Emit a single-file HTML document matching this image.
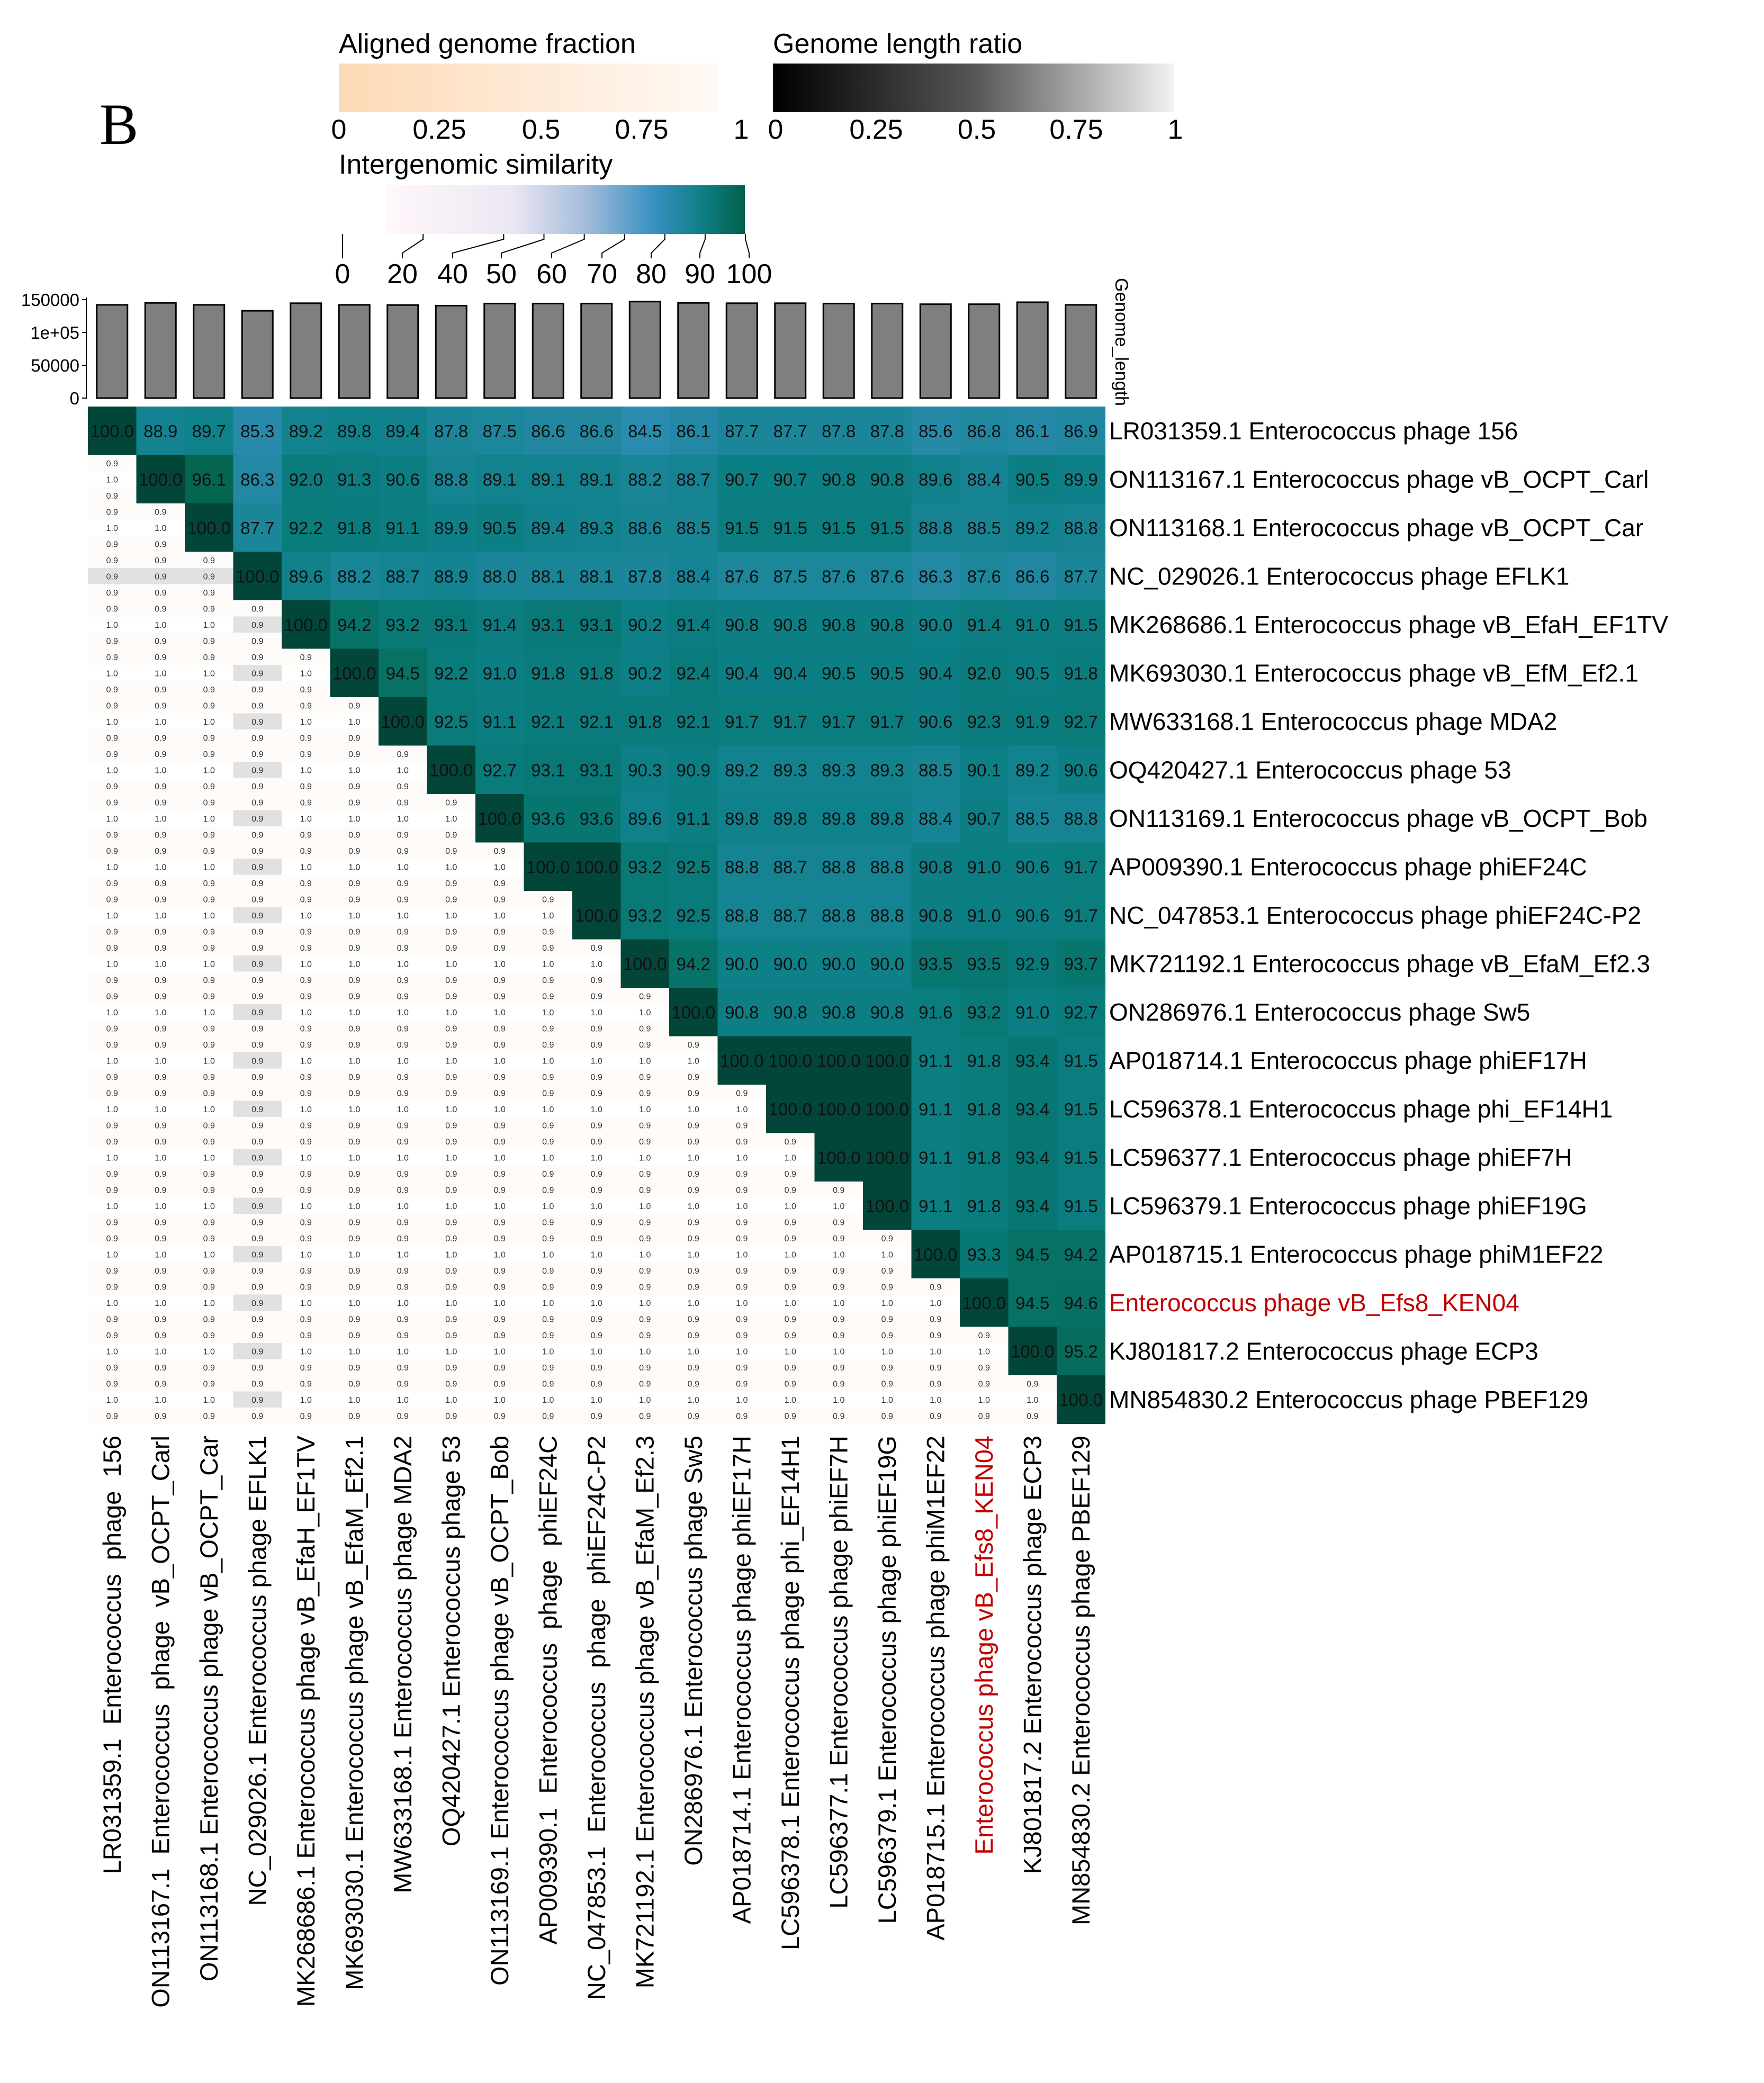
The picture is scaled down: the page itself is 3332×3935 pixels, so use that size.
<!DOCTYPE html>
<html><head><meta charset="utf-8"><style>
html,body{margin:0;padding:0;background:#fff}
svg{display:block;font-family:"Liberation Sans",sans-serif}
</style></head><body>
<svg id="chart" width="3332" height="3935" viewBox="0 0 3332 3935" xmlns="http://www.w3.org/2000/svg">
<defs>
<linearGradient id="gAF" x1="0" x2="1"><stop offset="0" stop-color="#fdd9b5"/><stop offset="1" stop-color="#fffaf6"/></linearGradient>
<linearGradient id="gGL" x1="0" x2="1"><stop offset="0" stop-color="#000"/><stop offset="0.5" stop-color="#555"/><stop offset="1" stop-color="#f2f2f2"/></linearGradient>
<linearGradient id="gIS" x1="0" x2="1"><stop offset="0" stop-color="#fff7fb"/><stop offset="0.35" stop-color="#ece7f2"/><stop offset="0.55" stop-color="#a6bddb"/><stop offset="0.75" stop-color="#3690c0"/><stop offset="0.88" stop-color="#0f7f86"/><stop offset="1" stop-color="#02604a"/></linearGradient>
</defs>
<text x="188" y="272" font-family="Liberation Serif,serif" font-size="110">B</text>
<g>
<text x="640" y="100" font-size="52">Aligned genome fraction</text>
<rect x="640" y="120" width="717" height="92" fill="url(#gAF)"/>
<text x="640" y="262" font-size="52" text-anchor="middle">0</text>
<text x="830" y="262" font-size="52" text-anchor="middle">0.25</text>
<text x="1022" y="262" font-size="52" text-anchor="middle">0.5</text>
<text x="1212" y="262" font-size="52" text-anchor="middle">0.75</text>
<text x="1400" y="262" font-size="52" text-anchor="middle">1</text>
</g>
<g>
<text x="1460" y="100" font-size="52">Genome length ratio</text>
<rect x="1460" y="120" width="757" height="92" fill="url(#gGL)"/>
<text x="1465" y="262" font-size="52" text-anchor="middle">0</text>
<text x="1655" y="262" font-size="52" text-anchor="middle">0.25</text>
<text x="1845" y="262" font-size="52" text-anchor="middle">0.5</text>
<text x="2033" y="262" font-size="52" text-anchor="middle">0.75</text>
<text x="2220" y="262" font-size="52" text-anchor="middle">1</text>
</g>
<g>
<text x="640" y="328" font-size="52">Intergenomic similarity</text>
<rect x="730" y="350" width="677" height="92" fill="url(#gIS)"/>
<g id="isTicks" fill="none" stroke="#000" stroke-width="2"></g>
</g>
<g id="bars"></g>
<g id="heat"></g>
<g id="labels"></g>
</svg>
<script>
const names = ["LR031359.1 Enterococcus phage 156","ON113167.1 Enterococcus phage vB_OCPT_Carl","ON113168.1 Enterococcus phage vB_OCPT_Car","NC_029026.1 Enterococcus phage EFLK1","MK268686.1 Enterococcus phage vB_EfaH_EF1TV","MK693030.1 Enterococcus phage vB_EfM_Ef2.1","MW633168.1 Enterococcus phage MDA2","OQ420427.1 Enterococcus phage 53","ON113169.1 Enterococcus phage vB_OCPT_Bob","AP009390.1 Enterococcus phage phiEF24C","NC_047853.1 Enterococcus phage phiEF24C-P2","MK721192.1 Enterococcus phage vB_EfaM_Ef2.3","ON286976.1 Enterococcus phage Sw5","AP018714.1 Enterococcus phage phiEF17H","LC596378.1 Enterococcus phage phi_EF14H1","LC596377.1 Enterococcus phage phiEF7H","LC596379.1 Enterococcus phage phiEF19G","AP018715.1 Enterococcus phage phiM1EF22","Enterococcus phage vB_Efs8_KEN04","KJ801817.2 Enterococcus phage ECP3","MN854830.2 Enterococcus phage PBEF129"];
const colNames = ["LR031359.1  Enterococcus  phage  156","ON113167.1  Enterococcus  phage  vB_OCPT_Carl","ON113168.1 Enterococcus phage vB_OCPT_Car","NC_029026.1 Enterococcus phage EFLK1","MK268686.1 Enterococcus phage vB_EfaH_EF1TV","MK693030.1 Enterococcus phage vB_EfaM_Ef2.1","MW633168.1 Enterococcus phage MDA2","OQ420427.1 Enterococcus phage 53","ON113169.1 Enterococcus phage vB_OCPT_Bob","AP009390.1  Enterococcus  phage  phiEF24C","NC_047853.1  Enterococcus  phage  phiEF24C-P2","MK721192.1 Enterococcus phage vB_EfaM_Ef2.3","ON286976.1 Enterococcus phage Sw5","AP018714.1 Enterococcus phage phiEF17H","LC596378.1 Enterococcus phage phi_EF14H1","LC596377.1 Enterococcus phage phiEF7H","LC596379.1 Enterococcus phage phiEF19G","AP018715.1 Enterococcus phage phiM1EF22","Enterococcus phage vB_Efs8_KEN04","KJ801817.2 Enterococcus phage ECP3","MN854830.2 Enterococcus phage PBEF129"];
const highlightIndex = 18;
const genomeLengths = [142000,145000,142000,133000,144500,142000,141700,140800,144000,144000,144000,147000,145000,144500,144500,144000,144000,143000,143000,146000,142000];
const yTicks = [0,50000,100000,150000];
const yTickLabels = ["0","50000","1e+05","150000"];
const upper = [
[88.9,89.7,85.3,89.2,89.8,89.4,87.8,87.5,86.6,86.6,84.5,86.1,87.7,87.7,87.8,87.8,85.6,86.8,86.1,86.9],
[96.1,86.3,92.0,91.3,90.6,88.8,89.1,89.1,89.1,88.2,88.7,90.7,90.7,90.8,90.8,89.6,88.4,90.5,89.9],
[87.7,92.2,91.8,91.1,89.9,90.5,89.4,89.3,88.6,88.5,91.5,91.5,91.5,91.5,88.8,88.5,89.2,88.8],
[89.6,88.2,88.7,88.9,88.0,88.1,88.1,87.8,88.4,87.6,87.5,87.6,87.6,86.3,87.6,86.6,87.7],
[94.2,93.2,93.1,91.4,93.1,93.1,90.2,91.4,90.8,90.8,90.8,90.8,90.0,91.4,91.0,91.5],
[94.5,92.2,91.0,91.8,91.8,90.2,92.4,90.4,90.4,90.5,90.5,90.4,92.0,90.5,91.8],
[92.5,91.1,92.1,92.1,91.8,92.1,91.7,91.7,91.7,91.7,90.6,92.3,91.9,92.7],
[92.7,93.1,93.1,90.3,90.9,89.2,89.3,89.3,89.3,88.5,90.1,89.2,90.6],
[93.6,93.6,89.6,91.1,89.8,89.8,89.8,89.8,88.4,90.7,88.5,88.8],
[100.0,93.2,92.5,88.8,88.7,88.8,88.8,90.8,91.0,90.6,91.7],
[93.2,92.5,88.8,88.7,88.8,88.8,90.8,91.0,90.6,91.7],
[94.2,90.0,90.0,90.0,90.0,93.5,93.5,92.9,93.7],
[90.8,90.8,90.8,90.8,91.6,93.2,91.0,92.7],
[100.0,100.0,100.0,91.1,91.8,93.4,91.5],
[100.0,100.0,91.1,91.8,93.4,91.5],
[100.0,91.1,91.8,93.4,91.5],
[91.1,91.8,93.4,91.5],
[93.3,94.5,94.2],
[94.5,94.6],
[95.2],
[]];
const alignedFracA = [0.9,0.9,0.9,0.9,0.9,0.9,0.9,0.9,0.9,0.9,0.9,0.9,0.9,0.9,0.9,0.9,0.9,0.9,0.9,0.9,0.9];
const alignedFracB = [0.9,0.9,0.9,0.9,0.9,0.9,0.9,0.9,0.9,0.9,0.9,0.9,0.9,0.9,0.9,0.9,0.9,0.9,0.9,0.9,0.9];
const isTickVals = [0,20,40,50,60,70,80,90,100];
const isTickLabelX = [647,760,855,947,1042,1137,1230,1322,1415];

const NS="http://www.w3.org/2000/svg";
function mk(tag,attrs,parent){const e=document.createElementNS(NS,tag);for(const k in attrs)e.setAttribute(k,attrs[k]);parent.appendChild(e);return e;}
const N=names.length, X0=166, Y0=768, CS=91.5;
const cx=i=>X0+CS*i+CS/2, cy=i=>Y0+CS*i+CS/2;
const barY=v=>752-(v/150000)*186;
const isX=v=>647+v*7.61;

const tg=document.getElementById('isTicks');
isTickVals.forEach((v,k)=>{
  const p=mk('path',{d:`M${isX(v)} 442 L${isX(v)} 452 L${isTickLabelX[k]} 478 L${isTickLabelX[k]} 488`},tg);
  
  
  const t=mk('text',{x:isTickLabelX[k],y:535,'font-size':52,'text-anchor':'middle',fill:'#000',stroke:'none'},tg.parentNode);
  t.textContent=v;
  
  
});

const bg=document.getElementById('bars');


mk('line',{x1:163,y1:barY(0)+2,x2:163,y2:barY(150000)-4,stroke:'#000','stroke-width':2},bg);
yTicks.forEach((v,k)=>{
  mk('line',{x1:155,y1:barY(v),x2:163,y2:barY(v),stroke:'#000','stroke-width':2},bg);
  const t=mk('text',{x:150,y:barY(v)+12,'font-size':33,'text-anchor':'end'},bg);
  t.textContent=yTickLabels[k];
  
  
});
genomeLengths.forEach((v,i)=>{
  const r=mk('rect',{x:cx(i)-29,y:barY(v),width:58,height:barY(0)-barY(v),fill:'#7f7f7f',stroke:'#000','stroke-width':3},bg);
  
  
});
const gl=mk('text',{transform:`translate(2107,525) rotate(90)`,'font-size':34},bg);
gl.textContent='Genome_length';



const stops=[[0,[255,247,251]],[40,[236,231,242]],[60,[166,189,219]],[80,[54,144,192]],[85,[40,138,172]],[88,[26,133,152]],[90,[13,128,136]],[93,[8,122,120]],[96,[5,103,80]],[100,[1,70,56]]];
function simColor(v){for(let k=1;k<stops.length;k++){if(v<=stops[k][0]){const a=stops[k-1],b=stops[k],t=(v-a[0])/(b[0]-a[0]);return 'rgb('+a[1].map((c,j)=>Math.round(c+(b[1][j]-c)*t)).join(',')+')';}}return 'rgb(1,70,56)';}
function glColor(v){if(v>=0.95)return '#ffffff';return '#e1e1e1';}

const hg=document.getElementById('heat');


for(let i=0;i<N;i++){
  for(let j=0;j<N;j++){
    const x=X0+CS*j, y=Y0+CS*i;
    if(j>=i){
      const v = j===i?100.0:upper[i][j-i-1];
      const r=mk('rect',{x:x,y:y,width:CS+0.5,height:CS+0.5,fill:simColor(v)},hg);
      
      
      const t=mk('text',{x:x+CS/2,y:y+CS/2+12,'font-size':33,'text-anchor':'middle',fill:'#111'},hg);
      t.textContent=v.toFixed(1);
      
      
    } else {
      const a=alignedFracA[j], b=alignedFracB[i];
      const ratio=Math.min(genomeLengths[i],genomeLengths[j])/Math.max(genomeLengths[i],genomeLengths[j]);
      const h=CS/3;
      const vals=[a,ratio,b], cols=[a<1?'#fefbf8':'#fff', glColor(ratio), b<1?'#fefbf8':'#fff'];
      for(let k=0;k<3;k++){
        const r=mk('rect',{x:x,y:y+h*k,width:CS+0.5,height:h+0.5,fill:cols[k]},hg);
        
        
        const t=mk('text',{x:x+CS/2,y:y+h*k+h/2+6,'font-size':16,'text-anchor':'middle',fill:'#333'},hg);
        t.textContent=vals[k].toFixed(1);
        
        
      }
    }
  }
}

const lg=document.getElementById('labels');
names.forEach((n,i)=>{
  const t=mk('text',{x:2095,y:cy(i)+16,'font-size':46,fill:i===highlightIndex?'#c00000':'#000'},lg);
  t.textContent=n;
  
  
});
colNames.forEach((n,i)=>{
  const t=mk('text',{transform:`translate(${cx(i)+16},2712) rotate(-90)`,'font-size':47,'text-anchor':'end',fill:i===highlightIndex?'#c00000':'#000'},lg);
  t.style.whiteSpace='pre';
  t.textContent=n;
  
  
});
</script>
</body></html>
